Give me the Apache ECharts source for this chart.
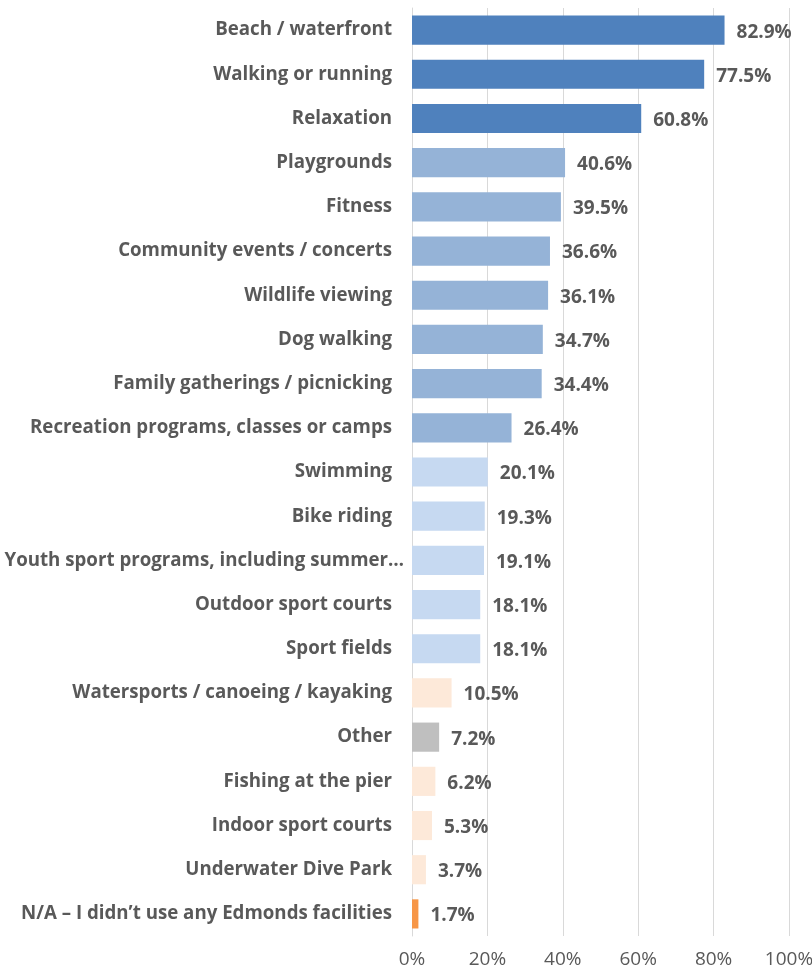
<!DOCTYPE html>
<html>
<head>
<meta charset="utf-8">
<script src="https://cdn.jsdelivr.net/npm/echarts@6/dist/echarts.min.js"></script>
<style>
  html, body { margin: 0; padding: 0; background: #fff; }
  #chart { width: 812px; height: 971px; }
</style>
</head>
<body>
<div id="chart"></div>
<script>
// Activities used at Edmonds facilities (% of respondents)
const categories = [
  'Beach / waterfront',
  'Walking or running',
  'Relaxation',
  'Playgrounds',
  'Fitness',
  'Community events / concerts',
  'Wildlife viewing',
  'Dog walking',
  'Family gatherings / picnicking',
  'Recreation programs, classes or camps',
  'Swimming',
  'Bike riding',
  'Youth sport programs, including summer…',
  'Outdoor sport courts',
  'Sport fields',
  'Watersports / canoeing / kayaking',
  'Other',
  'Fishing at the pier',
  'Indoor sport courts',
  'Underwater Dive Park',
  'N/A – I didn’t use any Edmonds facilities'
];
const values = [82.9, 77.5, 60.8, 40.6, 39.5, 36.6, 36.1, 34.7, 34.4, 26.4,
                20.1, 19.3, 19.1, 18.1, 18.1, 10.5, 7.2, 6.2, 5.3, 3.7, 1.7];
// Popularity tier of each activity
const tiers = ['high', 'high', 'high',
               'mid', 'mid', 'mid', 'mid', 'mid', 'mid', 'mid',
               'low', 'low', 'low', 'low', 'low',
               'minor', 'other', 'minor', 'minor', 'minor', 'none'];
const xTicks = [0, 20, 40, 60, 80, 100];

const tierColors = {
  high: '#4F81BD',
  mid: '#95B3D7',
  low: '#C6D9F1',
  minor: '#FDE9D9',
  other: '#BFBFBF',
  none: '#F79646'
};

const FONT = '"Open Sans", "Liberation Sans", sans-serif';
const TEXT = '#595959';

// A truncated label lets its ellipsis run past the usual right edge
const yItems = categories.map(c => c.endsWith('…')
  ? { value: c, textStyle: { padding: [2, -12, 0, 0] } }
  : c);

const chart = echarts.init(document.getElementById('chart'), null, { renderer: 'canvas' });
chart.setOption({
  animation: false,
  backgroundColor: '#ffffff',
  grid: { left: 412, right: 23, top: 8, bottom: 35, containLabel: false, outerBoundsMode: 'none' },
  xAxis: {
    type: 'value',
    min: xTicks[0],
    max: xTicks[xTicks.length - 1],
    interval: xTicks[1] - xTicks[0],
    axisLine: { show: false },
    axisTick: { show: false },
    splitLine: { show: true, lineStyle: { color: '#D9D9D9', width: 1 } },
    axisLabel: {
      formatter: v => v + '%',
      color: TEXT,
      fontFamily: FONT,
      fontSize: 19,
      margin: 14
    }
  },
  yAxis: {
    type: 'category',
    inverse: true,
    data: yItems,
    axisLine: { show: true, lineStyle: { color: '#D9D9D9', width: 1 } },
    axisTick: { show: false },
    axisLabel: {
      color: TEXT,
      fontFamily: FONT,
      fontWeight: 'bold',
      fontSize: 18.7,
      margin: 20,
      padding: [2, 0, 0, 0]
    }
  },
  series: [{
    type: 'bar',
    barCategoryGap: '34%',
    data: values.map((v, i) => ({
      value: v,
      itemStyle: { color: tierColors[tiers[i]] }
    })),
    label: {
      show: true,
      position: 'right',
      distance: 12,
      offset: [0, 2],
      formatter: p => p.value.toFixed(1) + '%',
      color: TEXT,
      fontFamily: FONT,
      fontWeight: 'bold',
      fontSize: 19
    }
  }]
});
</script>
</body>
</html>
